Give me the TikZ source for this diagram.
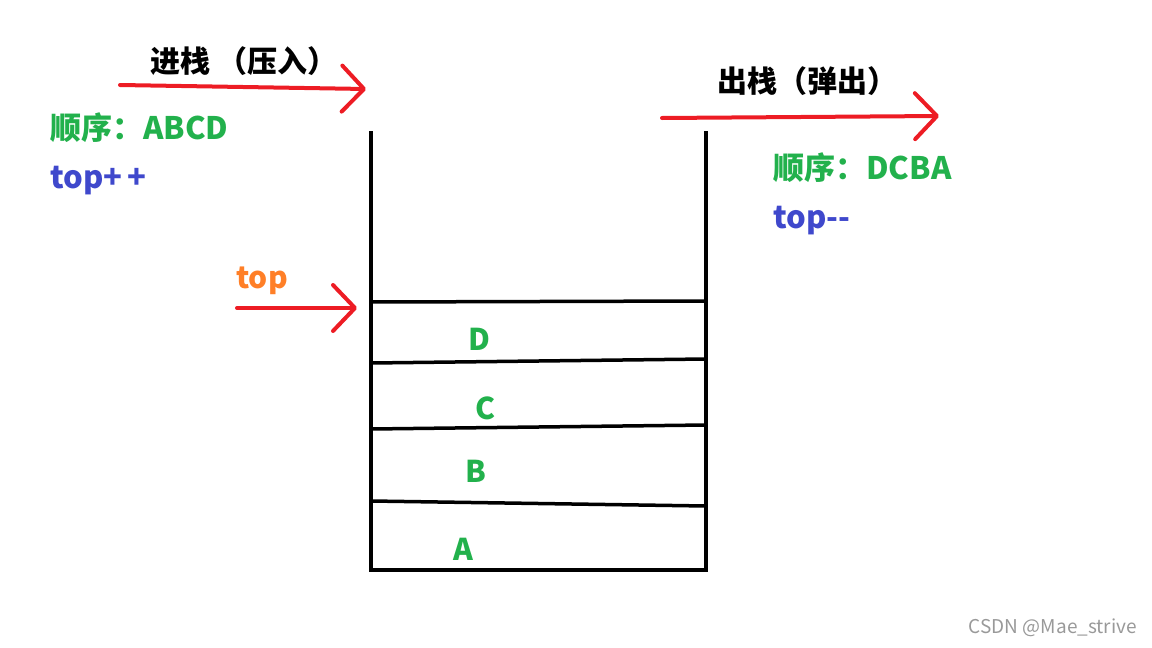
\documentclass[tikz,border=0pt]{standalone}
\usepackage{fontspec}
\usepackage{xcolor}
\usetikzlibrary{arrows.meta}
\newfontfamily\cjk{Noto Sans CJK SC}
\definecolor{penred}{HTML}{ED1C24}
\definecolor{pengreen}{HTML}{22B14C}
\definecolor{penblue}{HTML}{3F48CC}
\definecolor{penorange}{HTML}{FF7F27}

\begin{document}
\begin{tikzpicture}[x=1pt, y=-1pt,
		wall/.style={line width=4pt, line cap=rect},
		slot/.style={line width=3.5pt},
		redarrow/.style={penred, line width=4pt, line cap=round,
			-{Straight Barb[length=22pt, width=46pt, line width=4pt, round]}},
		title/.style={font=\cjk\bfseries\fontsize{30}{30}\selectfont, inner sep=0pt},
		order/.style={font=\cjk\bfseries\fontsize{31}{31}\selectfont, text=pengreen, inner sep=0pt, anchor=west},
		ptr/.style={font=\cjk\bfseries\fontsize{31}{31}\selectfont, text=penblue, inner sep=0pt, anchor=west},
		item/.style={font=\cjk\bfseries\fontsize{30}{30}\selectfont, text=pengreen, inner sep=0pt}
	]
	\useasboundingbox (0,0) rectangle (1152,648);

	% stack body
	\draw[wall] (371,133) -- (371,570) -- (706,570) -- (706,133);
	\draw[slot] (371,302) -- (706,301);
	\draw[slot] (371,363) -- (706,359);
	\draw[slot] (371,429) -- (706,425);
	\draw[slot] (371,501) -- (706,506);

	% elements
	\node[item] (D) at (479,339) {D};
	\node[item] (C) at (485,408) {C};
	\node[item] (B) at (476,471) {B};
	\node[item] (A) at (463,549) {A};

	% push side
	\node[title] (push) at (244,61) {进栈 （压入）};
	\coordinate (pushS) at (120,85);
	\coordinate (pushE) at (366,89);
	\draw[redarrow] (pushS) -- (pushE);
	\node[order] (pushord) at (50,128) {顺序：ABCD};
	\node[ptr] (pushptr) at (50,181) {top+\kern5pt+};

	% pop side
	\node[title] (pop) at (807,81) {出栈（弹出）};
	\coordinate (popS) at (662,118);
	\coordinate (popE) at (939,116);
	\draw[redarrow] (popS) -- (popE);
	\node[order] (popord) at (773,168) {顺序：DCBA};
	\node[ptr] (popptr) at (773,221) {top--};

	% top pointer
	\node[font=\cjk\bfseries\fontsize{30}{30}\selectfont, text=penorange, inner sep=0pt, anchor=west] (toplbl) at (236,281) {top};
	\coordinate (topS) at (237,308);
	\coordinate (topE) at (357,308);
	\draw[redarrow] (topS) -- (topE);

	% watermark
	\node[font=\cjk\fontsize{19}{19}\selectfont, text=gray!80, inner sep=0pt, anchor=east] (mark) at (1137,628) {CSDN @Mae\_strive};
\end{tikzpicture}
\end{document}
